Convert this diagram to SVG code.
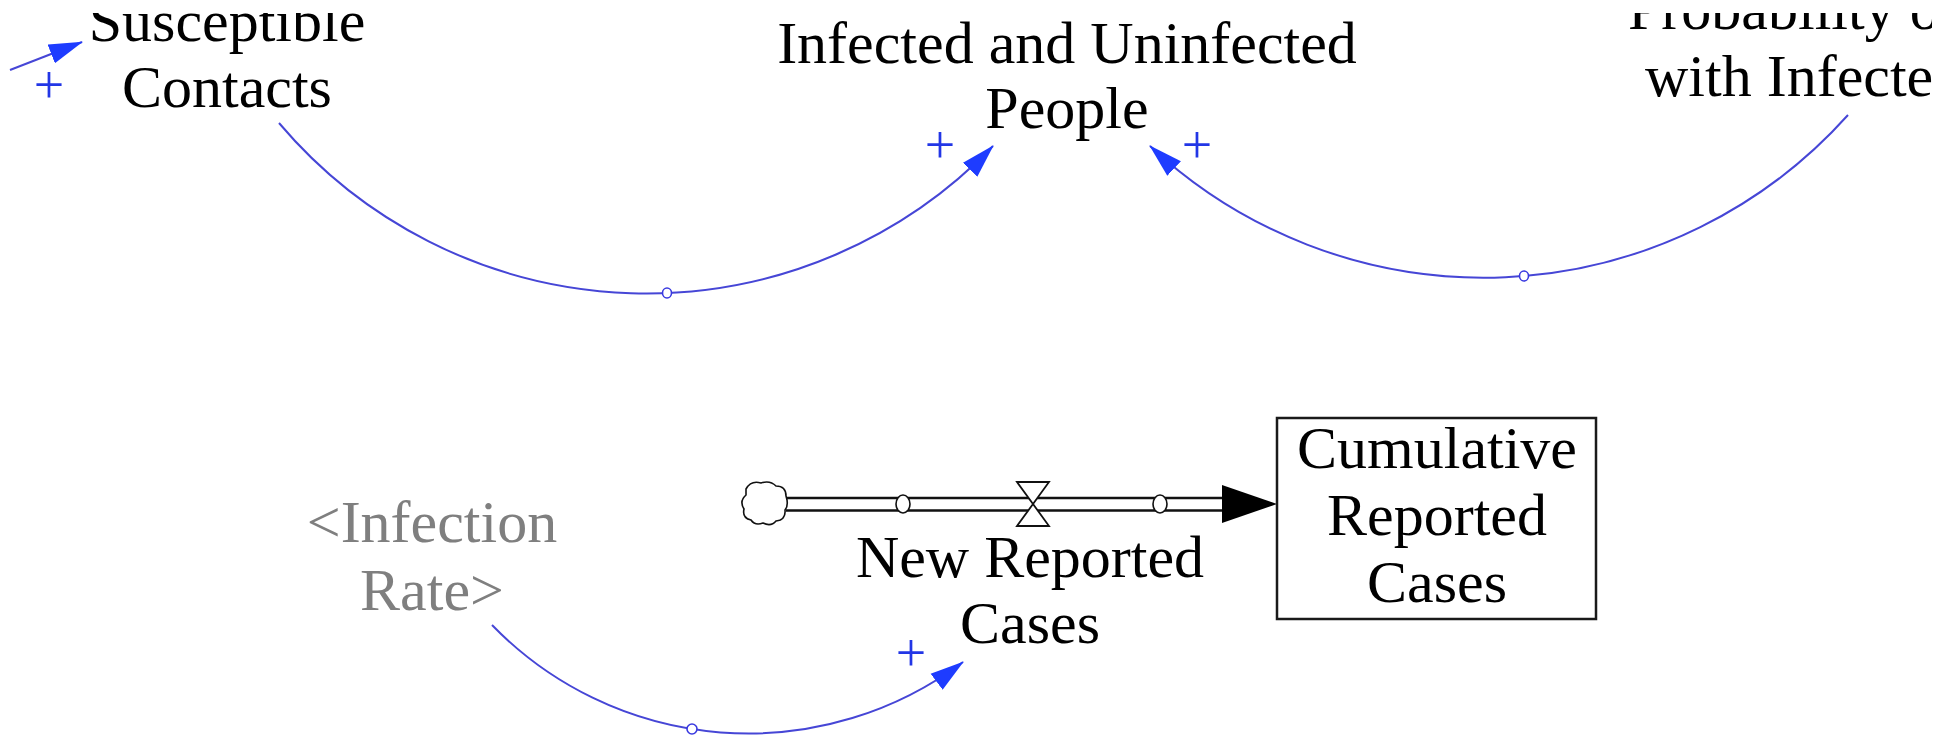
<svg xmlns="http://www.w3.org/2000/svg" width="1956" height="738" viewBox="0 0 1956 738">
  <style>
    .lbl { font-family: "Liberation Serif", "Times New Roman", serif; font-size: 60px; fill: #000; text-anchor: middle; }
    .lbl-left { text-anchor: start; }
    .shadow { fill: #7f7f7f; }
    .link { fill: none; stroke: #4646d6; stroke-width: 2; }
    .handle { fill: #fff; stroke: #3a3ae0; stroke-width: 1.6; }
    .pol { font-family: "Liberation Serif", "Times New Roman", serif; font-size: 54px; fill: #2236e6; text-anchor: middle; }
    .pipe { stroke: #111; stroke-width: 2.6; fill: none; }
    .pipe-handle { fill: #fff; stroke: #111; stroke-width: 1.6; }
  </style>
  <defs>
    <marker id="linkHead" markerUnits="userSpaceOnUse" viewBox="0 0 34 22" refX="33" refY="11" markerWidth="34" markerHeight="22" orient="auto">
      <path d="M0,1 L34,11 L0,21 Z" fill="#1e3cff"/>
    </marker>
    <!-- visible window of the sketch canvas -->
    <clipPath id="canvasClip">
      <rect x="0" y="13" width="1932" height="725"/>
    </clipPath>
  </defs>
  <rect width="1956" height="738" fill="#fff"/>

  <!-- causal links -->
  <g id="connectors">
    <path class="link" d="M10,70 L82,42" marker-end="url(#linkHead)"/>
    <path class="link" d="M279,123 A481.2,481.2 0 0,0 993,146" marker-end="url(#linkHead)"/>
    <ellipse class="handle" cx="667" cy="293" rx="4.5" ry="5"/>
    <path class="link" d="M1848,115 A489,489 0 0,1 1150,146" marker-end="url(#linkHead)"/>
    <ellipse class="handle" cx="1524" cy="276" rx="4.5" ry="5"/>
    <path class="link" d="M492,625 A357.5,357.5 0 0,0 963,662" marker-end="url(#linkHead)"/>
    <ellipse class="handle" cx="692" cy="729" rx="5" ry="5"/>

    <text class="pol" x="49" y="103">+</text>
    <text class="pol" x="940" y="163">+</text>
    <text class="pol" x="1197" y="163">+</text>
    <text class="pol" x="911" y="671">+</text>
  </g>

  <!-- material flow into the stock -->
  <g id="flow">
    <path d="M746,489 q5,-9 15,-6 q9,-3 15,3 q10,0 10,10 q3,9 -1,14 q1,10 -9,11 q-5,6 -13,2 q-8,3 -12,-3 q-9,-2 -7,-11 q-5,-8 2,-14 Z" fill="#fff" stroke="#111" stroke-width="1.6"/>
    <line class="pipe" x1="786" y1="498" x2="1226" y2="498"/>
    <line class="pipe" x1="786" y1="510.5" x2="1226" y2="510.5"/>
    <ellipse class="pipe-handle" cx="903" cy="504" rx="7" ry="9"/>
    <ellipse class="pipe-handle" cx="1160" cy="504" rx="7" ry="9"/>
    <path d="M1017,482 L1049,482 L1033,504 Z M1017,526 L1049,526 L1033,504 Z" fill="#fff" stroke="#111" stroke-width="1.8"/>
    <path d="M1222,485 L1277,504 L1222,523 Z" fill="#000"/>
  </g>

  <g id="susceptible-contacts" clip-path="url(#canvasClip)">
    <text class="lbl" x="227" y="41">Susceptible</text>
    <text class="lbl" x="227" y="107">Contacts</text>
  </g>

  <g id="infected-and-uninfected-people">
    <text class="lbl" x="1067" y="63">Infected and Uninfected</text>
    <text class="lbl" x="1067" y="128">People</text>
  </g>

  <g id="probability-contact" clip-path="url(#canvasClip)">
    <text class="lbl lbl-left" x="1628" y="29">Probability o</text>
    <text class="lbl lbl-left" x="1645" y="96">with Infecte</text>
  </g>

  <g id="infection-rate">
    <text class="lbl shadow" x="432" y="542">&lt;Infection</text>
    <text class="lbl shadow" x="432" y="610">Rate&gt;</text>
  </g>

  <g id="new-reported-cases">
    <text class="lbl" x="1030" y="577">New Reported</text>
    <text class="lbl" x="1030" y="643">Cases</text>
  </g>

  <g id="cumulative-reported-cases">
    <rect x="1277" y="418" width="319" height="201" fill="#fff" stroke="#1a1a1a" stroke-width="2.5"/>
    <text class="lbl" x="1437" y="468">Cumulative</text>
    <text class="lbl" x="1437" y="535">Reported</text>
    <text class="lbl" x="1437" y="602">Cases</text>
  </g>
</svg>
